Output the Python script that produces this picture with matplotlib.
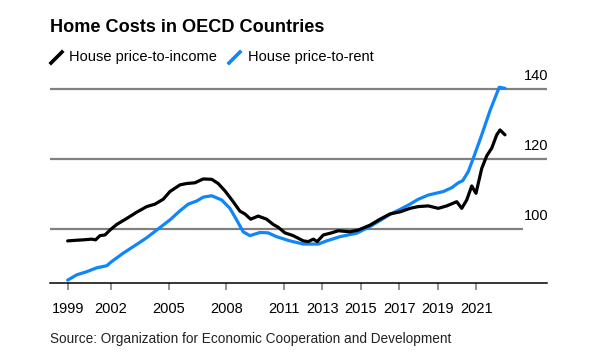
import matplotlib
matplotlib.use("Agg")
import matplotlib.pyplot as plt
import matplotlib.transforms as mtransforms

plt.rcParams['font.family'] = ['Liberation Sans', 'DejaVu Sans']

# ---- data ----
income_years = [1999.75, 2000.25, 2000.56, 2001.0, 2001.2, 2001.43, 2001.69, 2001.95, 2002.3, 2002.82,
                2003.34, 2003.86, 2004.29, 2004.72, 2005.07, 2005.59, 2005.94, 2006.37, 2006.8, 2007.24,
                2007.58, 2007.93, 2008.36, 2008.71, 2008.97, 2009.27, 2009.66, 2010.1, 2010.44, 2010.7,
                2011.05, 2011.48, 2012.01, 2012.27, 2012.53, 2012.73, 2013.05, 2013.48, 2013.83, 2014.43,
                2014.87, 2015.48, 2016.0, 2016.52, 2017.04, 2017.56, 2017.99, 2018.51, 2019.03, 2019.47,
                2019.99, 2020.25, 2020.51, 2020.77, 2020.99, 2021.29, 2021.55, 2021.81, 2022.07, 2022.24,
                2022.5]
income_values = [96.6, 96.8, 96.9, 97.1, 96.9, 98.1, 98.3, 99.7, 101.3, 103.0,
                 104.8, 106.4, 107.1, 108.5, 110.7, 112.6, 113.0, 113.2, 114.3, 114.2,
                 113.0, 110.9, 107.8, 105.1, 104.3, 102.8, 103.7, 102.8, 101.3, 100.5,
                 98.9, 98.1, 96.6, 96.4, 97.1, 96.4, 98.3, 98.9, 99.5, 99.2,
                 99.7, 101.1, 102.8, 104.3, 104.9, 105.9, 106.4, 106.6, 105.9, 106.6,
                 107.8, 105.9, 108.3, 112.3, 110.2, 117.3, 120.9, 123.1, 126.9, 128.3,
                 126.9]

rent_years = [1999.75, 2000.22, 2000.74, 2001.26, 2001.78, 2002.04, 2002.64, 2003.34, 2003.86, 2004.38,
              2005.07, 2005.59, 2006.02, 2006.46, 2006.8, 2007.24, 2007.76, 2008.19, 2008.54, 2008.88,
              2009.23, 2009.75, 2010.18, 2010.62, 2011.31, 2012.01, 2012.79, 2013.22, 2013.91, 2014.78,
              2015.48, 2016.0, 2016.52, 2017.04, 2017.56, 2017.99, 2018.51, 2019.29, 2019.73, 2020.07,
              2020.3, 2020.59, 2020.85, 2021.29, 2021.72, 2022.2, 2022.5]
rent_values = [85.4, 86.9, 87.8, 88.9, 89.5, 90.7, 93.1, 95.6, 97.5, 99.7,
               102.6, 105.2, 107.1, 108.0, 109.1, 109.5, 108.3, 105.9, 102.6, 99.2,
               98.1, 99.0, 98.9, 97.8, 96.6, 95.7, 95.7, 96.6, 97.8, 98.8,
               100.7, 102.4, 104.2, 105.6, 107.1, 108.5, 109.7, 110.7, 111.8, 113.2,
               113.8, 116.4, 120.2, 126.9, 133.8, 140.5, 140.2]

tick_positions = [1999.75, 2002, 2005, 2008, 2011, 2013, 2015, 2017, 2019, 2021]
tick_labels = ['1999', '2002', '2005', '2008', '2011', '2013', '2015', '2017', '2019', '2021']
grid_levels = [100, 120, 140]
grid_labels = ['100', '120', '140']

title = "Home Costs in OECD Countries"
series_names = ["House price-to-income", "House price-to-rent"]
source = "Source: Organization for Economic Cooperation and Development"

BLUE = '#0f86fa'
BLACK = '#000000'
GRAY = '#808080'

W, H = 599, 355
fig = plt.figure(figsize=(W / 100, H / 100), dpi=100)
ax = fig.add_axes([50 / W, 1 - 283 / H, (546.7 - 50) / W, (283 - 71.5) / H])

xmin, xmax = 1998.83, 2024.67
ax.set_xlim(xmin, xmax)
ax.set_ylim(84.57, 145)

# gridlines (100 line is shorter in the reference)
grid_ends = [2023.42, xmax, xmax]
for lvl, xe, lab in zip(grid_levels, grid_ends, grid_labels):
    ax.plot([xmin, xe], [lvl, lvl], color=GRAY, lw=1.6, zorder=1, solid_capstyle='butt')
    ax.text(1.003, lvl + 3.8, lab, transform=mtransforms.blended_transform_factory(ax.transAxes, ax.transData),
            ha='right', va='center', fontsize=10.5, color='#000000')

ax.plot(rent_years, rent_values, color=BLUE, lw=2.3, zorder=3, solid_joinstyle='round', solid_capstyle='round')
ax.plot(income_years, income_values, color=BLACK, lw=2.3, zorder=4, solid_joinstyle='round', solid_capstyle='round')

for s in ['top', 'right', 'left']:
    ax.spines[s].set_visible(False)
ax.spines['bottom'].set_color('#000000')
ax.spines['bottom'].set_linewidth(1.1)
ax.set_yticks([])
ax.set_xticks(tick_positions)
ax.set_xticklabels(tick_labels, fontsize=10.5)
ax.tick_params(axis='x', direction='out', length=5, width=1.2, color=GRAY, pad=9)

# title
fig.text(50 / W, 1 - 28 / H, title, fontsize=13.1, fontweight='bold', ha='left', va='center')

# legend with slash icons
def slash(x0, color):
    fig.add_artist(plt.Line2D([x0 / W, (x0 + 11) / W], [1 - 63 / H, 1 - 52 / H],
                              color=color, lw=2.6, transform=fig.transFigure))

slash(51, BLACK)
fig.text(69 / W, 1 - 57 / H, series_names[0], fontsize=10.5, ha='left', va='center')
slash(229, BLUE)
fig.text(248 / W, 1 - 57 / H, series_names[1], fontsize=10.5, ha='left', va='center')

fig.text(50 / W, 1 - 339 / H, source, fontsize=9.8, ha='left', va='center', color='#222222')

fig.savefig('out.png', dpi=100)
